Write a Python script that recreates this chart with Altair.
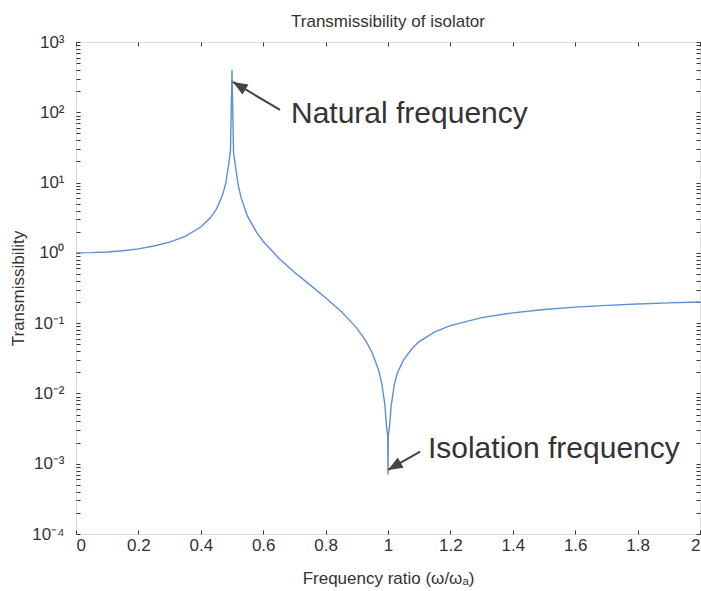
import altair as alt
import pandas as pd

# Frequency ratio (x) and transmissibility (y)
ratio = [0.0, 0.05, 0.1, 0.15, 0.2, 0.25, 0.3, 0.35, 0.4, 0.43, 0.45, 0.47, 0.48,
         0.49, 0.495, 0.5, 0.505, 0.51, 0.52, 0.53, 0.55, 0.58, 0.6, 0.65, 0.7,
         0.75, 0.8, 0.85, 0.9, 0.93, 0.95, 0.97, 0.98, 0.99, 0.995, 0.999, 1.0,
         1.001, 1.005, 1.01, 1.02, 1.03, 1.05, 1.08, 1.1, 1.15, 1.2, 1.3, 1.4,
         1.5, 1.6, 1.7, 1.8, 1.9, 2.0]
trans = [1.0, 1.007, 1.03, 1.07, 1.14, 1.25, 1.42, 1.72, 2.33, 3.13, 4.2, 6.7, 9.8,
         19.0, 28.0, 400.0, 27.0, 18.5, 9.1, 5.9, 3.3, 1.92, 1.45, 0.84, 0.53,
         0.35, 0.23, 0.147, 0.085, 0.055, 0.0374, 0.0214, 0.0139, 0.0069, 0.0035,
         0.0025, 0.0007, 0.0025, 0.0034, 0.0066, 0.0131, 0.0195, 0.030, 0.045,
         0.0547, 0.075, 0.0924, 0.12, 0.14, 0.156, 0.169, 0.179, 0.187, 0.194, 0.2]

x_tick_values = [0, 0.2, 0.4, 0.6, 0.8, 1.0, 1.2, 1.4, 1.6, 1.8, 2.0]
y_major = [1e-4, 1e-3, 1e-2, 1e-1, 1e0, 1e1, 1e2, 1e3]
y_minor = [m * d for d in [1e-4, 1e-3, 1e-2, 1e-1, 1e0, 1e1, 1e2] for m in range(2, 10)]
y_tick_values = y_major + y_minor

chart_title = ["Transmissibility of isolator"]

# Annotations
ann_labels = ["Natural frequency", "Isolation frequency"]
ann_text_x = [0.689, 1.128]
ann_text_y = [70.5, 0.00121]
arrow_tail_x = [0.654, 1.103]
arrow_tail_y = [108.0, 0.001486]
arrow_tip_x = [0.503, 1.0]
arrow_tip_y = [270.0, 0.000816]
arrow_angle = [301, 240]

df = pd.DataFrame({"r": ratio, "T": trans})
ann = pd.DataFrame({
    "label": ann_labels, "tx": ann_text_x, "ty": ann_text_y,
    "ax": arrow_tail_x, "ay": arrow_tail_y,
    "bx": arrow_tip_x, "by": arrow_tip_y, "ang": arrow_angle,
})
title_df = pd.DataFrame({"t": chart_title})

FONT = "Liberation Sans"
INK = "#333333"

xs = alt.Scale(domain=[0, 2], nice=False, zero=False)
ys = alt.Scale(type="log", domain=[1e-4, 1e3], nice=False)

sup_expr = (
    "abs(log(datum.value)/LN10 - round(log(datum.value)/LN10)) > 0.001 ? '' : "
    "'10' + (round(log(datum.value)/LN10) < 0 ? '\u207b' : '') + "
    "['\u2070','\u00b9','\u00b2','\u00b3','\u2074','\u2075','\u2076','\u2077','\u2078','\u2079']"
    "[abs(round(log(datum.value)/LN10))]"
)

x_axis = alt.Axis(
    values=x_tick_values, format="~g", offset=-4, tickSize=4, domain=False, grid=False,
    labelPadding=3, labelFontSize=17, labelFont=FONT, labelColor=INK, tickColor=INK,
    title="Frequency ratio (\u03c9/\u03c9\u2090)", titleFont=FONT, titleFontSize=17,
    titleFontWeight="normal", titleColor=INK, titleX=312, titleY=53,
    titleBaseline="alphabetic", titleAlign="center",
)
y_axis = alt.Axis(
    values=y_tick_values, labelExpr=sup_expr, offset=-4, tickSize=4, domain=False,
    grid=False, labelPadding=12, labelFontSize=17, labelFont=FONT, labelColor=INK,
    tickColor=INK, labelOverlap=False,
    title="Transmissibility", titleFont=FONT, titleFontSize=17, titleFontWeight="normal",
    titleColor=INK, titleX=-62, titleY=246, titleAngle=270, titleBaseline="middle",
    titleAlign="center",
)

line = alt.Chart(df).mark_line(color="#5b8fd8", strokeWidth=1.4, clip=True).encode(
    x=alt.X("r:Q", scale=xs, axis=x_axis),
    y=alt.Y("T:Q", scale=ys, axis=y_axis),
)

frame = alt.Chart(df).mark_line(opacity=0).encode(
    x=alt.X("r:Q", scale=xs, axis=alt.Axis(orient="top", values=x_tick_values, labels=False,
                                            offset=-4, tickSize=4, domain=False, grid=False,
                                            tickColor=INK, title=None)),
    y=alt.Y("T:Q", scale=ys, axis=alt.Axis(orient="right", values=y_tick_values, labels=False,
                                            offset=-4, tickSize=4, domain=False, grid=False,
                                            tickColor=INK, title=None)),
)

arrows = alt.Chart(ann).mark_rule(color="#444444", strokeWidth=2).encode(
    x=alt.X("ax:Q", scale=xs, axis=None), x2="bx:Q",
    y=alt.Y("ay:Q", scale=ys, axis=None), y2="by:Q",
)

heads = alt.Chart(ann).mark_point(
    shape="M0,0 L-0.6,1.5 L0.6,1.5 Z", filled=True, size=380, opacity=1, color="#444444"
).encode(
    x=alt.X("bx:Q", scale=xs, axis=None),
    y=alt.Y("by:Q", scale=ys, axis=None),
    angle=alt.Angle("ang:Q", scale=None),
)

texts = alt.Chart(ann).mark_text(
    align="left", baseline="alphabetic", font=FONT, fontSize=30, color=INK
).encode(
    x=alt.X("tx:Q", scale=xs, axis=None),
    y=alt.Y("ty:Q", scale=ys, axis=None),
    text="label:N",
)

title_mark = alt.Chart(title_df).mark_text(
    align="center", baseline="alphabetic", font=FONT, fontSize=17, color=INK
).encode(
    x=alt.value(312), y=alt.value(-15), text="t:N",
)

chart = alt.layer(line, frame, arrows, heads, texts, title_mark).resolve_axis(
    x="independent", y="independent"
).properties(
    width=624, height=492,
    autosize=alt.AutoSizeParams(type="none"),
    padding={"left": 76, "top": 42, "right": 1, "bottom": 57},
).configure_view(stroke="#222222", strokeWidth=1).configure(background="white")

chart.save("out.html", embed_options={"renderer": "svg", "actions": False})
